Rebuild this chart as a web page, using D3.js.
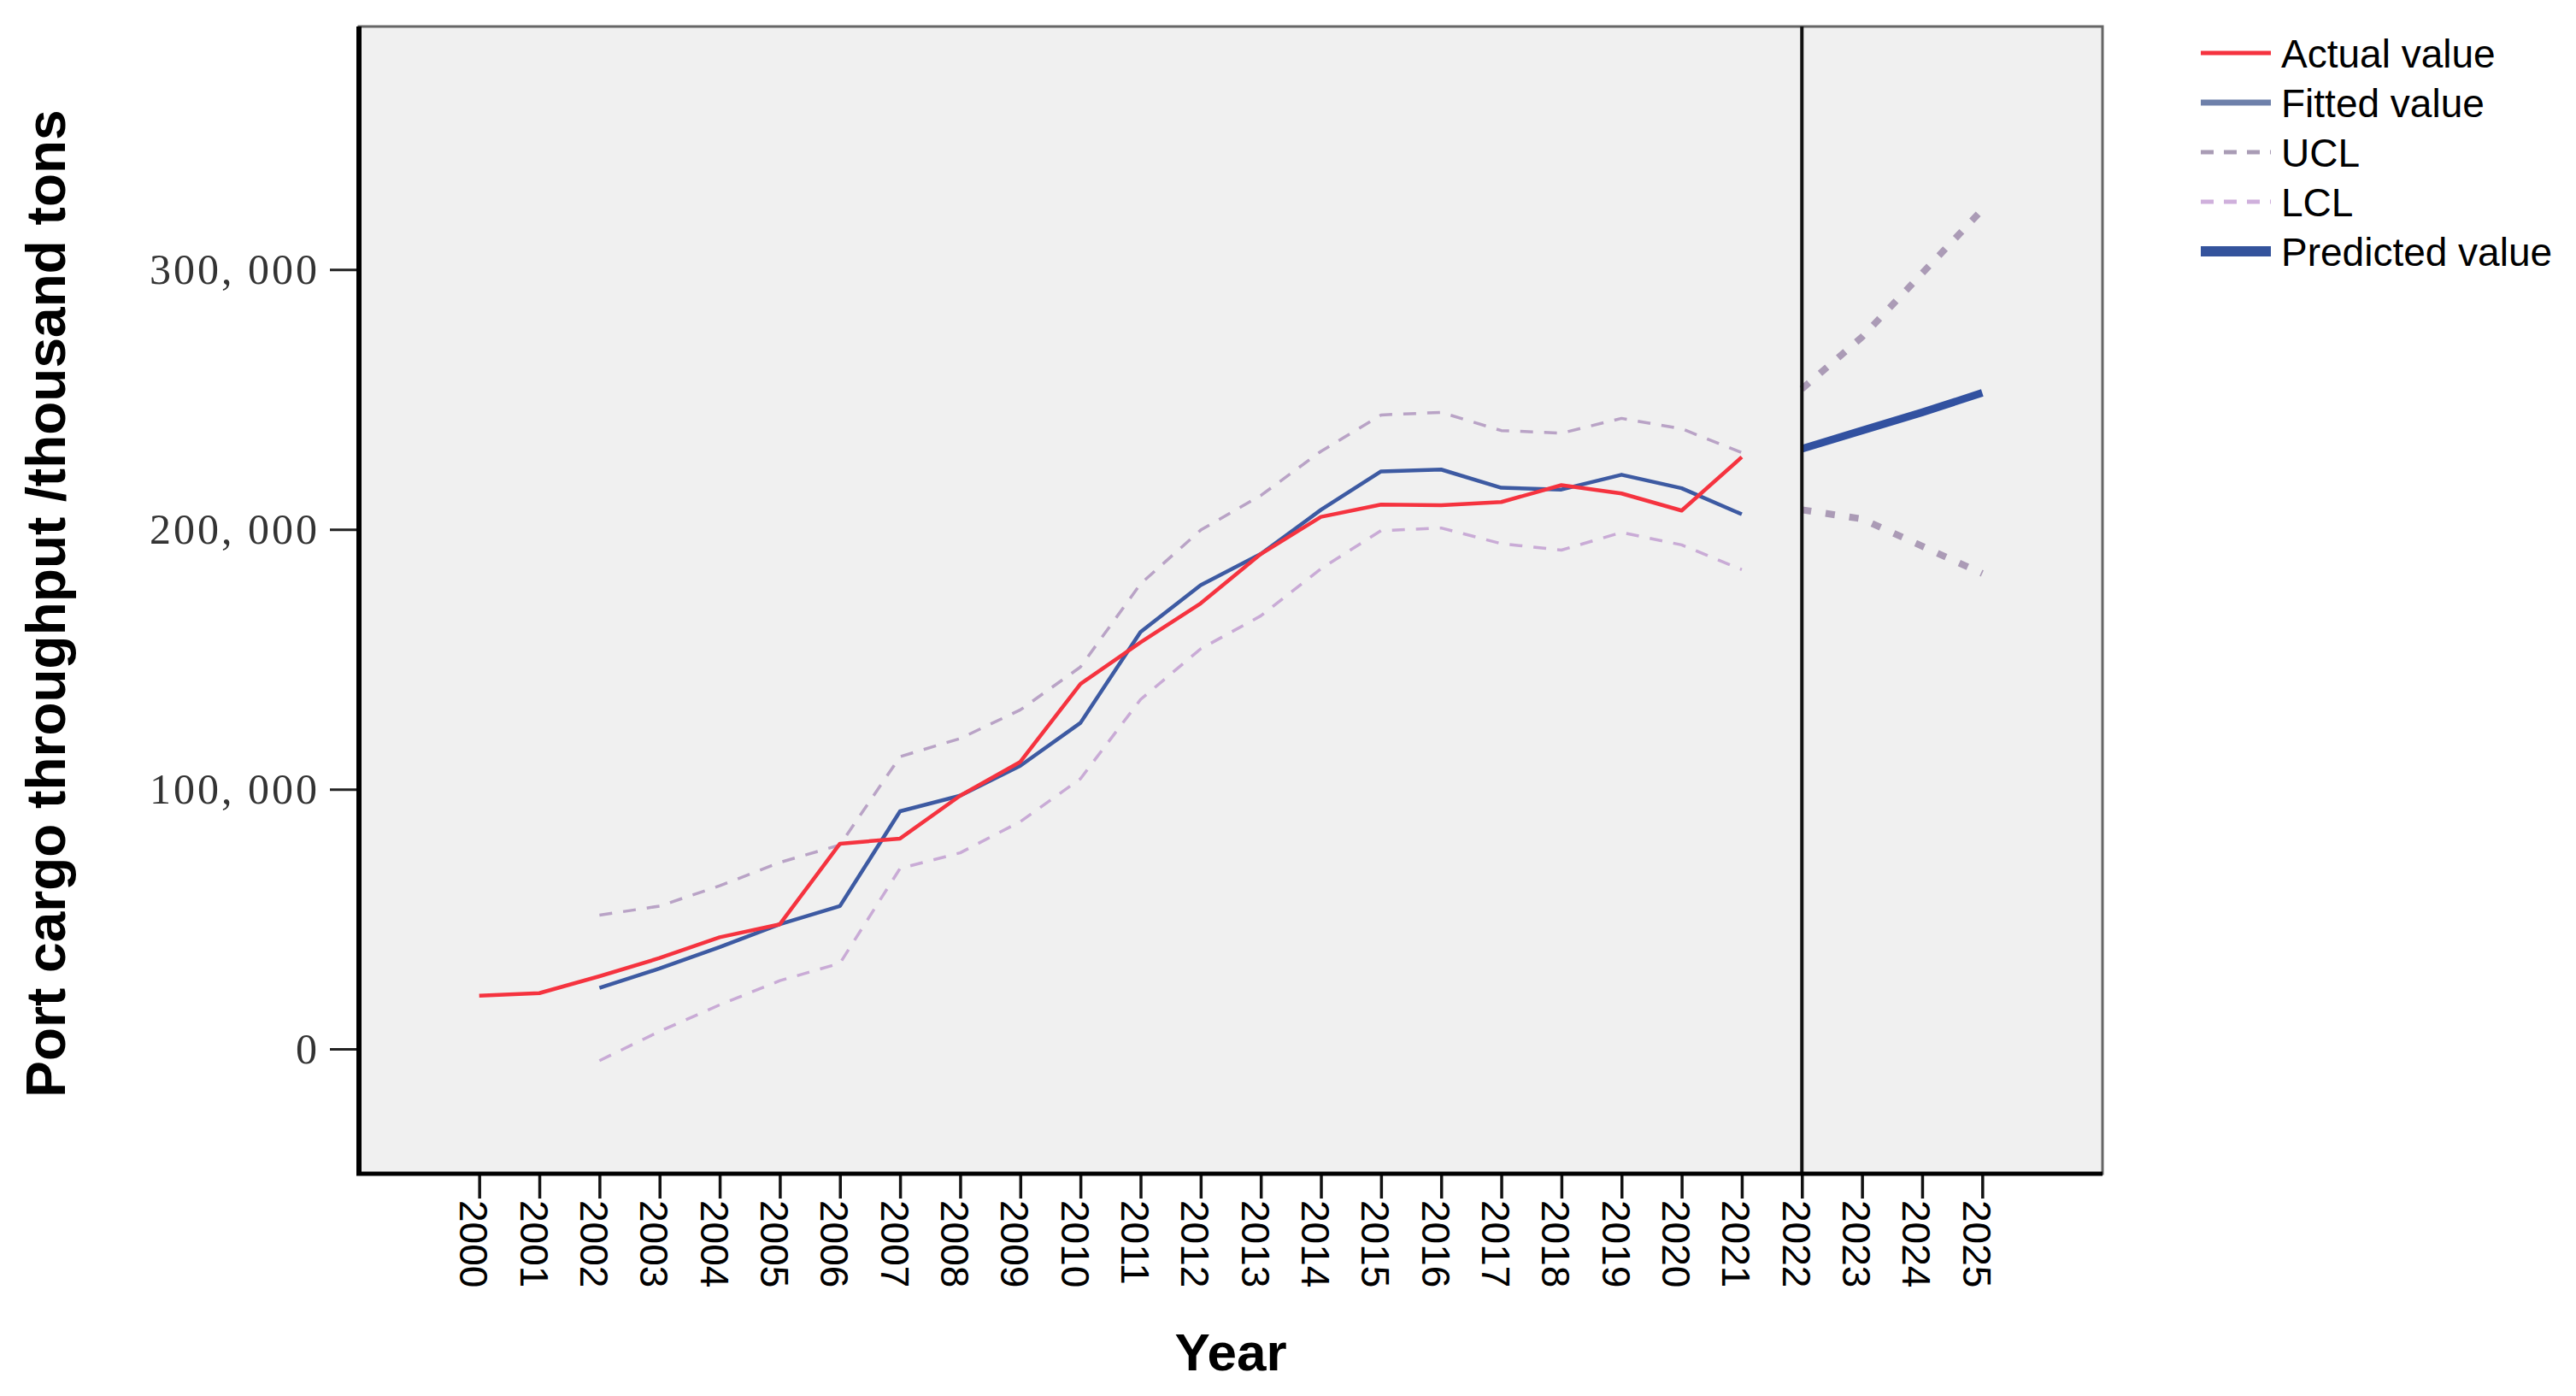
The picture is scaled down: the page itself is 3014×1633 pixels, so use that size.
<!DOCTYPE html>
<html>
<head>
<meta charset="utf-8">
<script src="https://cdn.jsdelivr.net/npm/d3@7"></script>
<style>
  body { margin: 0; background: #ffffff; }
  svg { display: block; }
</style>
</head>
<body>
<div id="chart"></div>
<script>
// data
var years = d3.range(2000, 2026);
var histYears = d3.range(2000, 2022);
var fitYears = d3.range(2002, 2022);
var foreYears = [2022, 2023, 2024, 2025];

var actualValues = [20500, 21500, 28000, 35000, 43000, 48000, 79000, 81000, 97500, 110500,
  140500, 156500, 171500, 190500, 204800, 209500, 209300, 210500, 217000, 213800, 207200, 227800];
var fittedValues = [23500, 31000, 39200, 48000, 55000, 91500, 97500, 109000, 125500, 160500,
  178500, 190500, 207500, 222300, 223000, 216000, 215300, 221000, 215800, 205800];
var uclValues = [51500, 55000, 62800, 71800, 78500, 112500, 119500, 130500, 147000, 179000,
  199700, 213000, 230000, 244000, 245000, 238000, 237000, 242700, 238700, 229500];
var lclValues = [-4500, 6800, 17000, 26300, 33000, 69500, 75500, 87500, 104000, 134500,
  154000, 166700, 184800, 199500, 200500, 194500, 192000, 198800, 194000, 184500];
var predictedValues = [231000, 238000, 245000, 252500];
var uclForecast = [254000, 274000, 298500, 323000];
var lclForecast = [207500, 204000, 193500, 183000];

var yTicks = [0, 100000, 200000, 300000];
var legendLabels = ["Actual value", "Fitted value", "UCL", "LCL", "Predicted value"];

var W = 3014, H = 1633;
var plot = {left: 420, right: 2460, top: 31, bottom: 1373};

var svg = d3.select("#chart").append("svg")
  .attr("width", W)
  .attr("height", H);

var x = d3.scaleLinear().domain([1998, 2027]).range([plot.left, plot.right]);
var y = d3.scaleLinear().domain([-48000, 393500]).range([plot.bottom, plot.top]);

// plot background + frame
svg.append("rect")
  .attr("x", plot.left).attr("y", plot.top)
  .attr("width", plot.right - plot.left).attr("height", plot.bottom - plot.top)
  .attr("fill", "#f0f0f0")
  .attr("stroke", "#666")
  .attr("stroke-width", 3);

function pairs(xs, vs) { return xs.map(function(d, i){ return [d, vs[i]]; }); }

var line = d3.line()
  .x(function(d){ return x(d[0]); })
  .y(function(d){ return y(d[1]); });

var series = [
  {data: pairs(fitYears, uclValues), color: "#b9a3c6", width: 3.5, dash: "15,13"},
  {data: pairs(fitYears, lclValues), color: "#c9abd6", width: 3.5, dash: "15,13"},
  {data: pairs(foreYears, uclForecast), color: "#ab9bb6", width: 8, dash: "11,17"},
  {data: pairs(foreYears, lclForecast), color: "#ab9bb6", width: 8, dash: "11,17"},
  {data: pairs(fitYears, fittedValues), color: "#3d5aa2", width: 4.5, dash: null},
  {data: pairs(histYears, actualValues), color: "#f5333f", width: 4.5, dash: null},
  {data: pairs(foreYears, predictedValues), color: "#3251a0", width: 9, dash: null}
];

svg.selectAll("path.series")
  .data(series)
  .enter()
  .append("path")
    .attr("class", "series")
    .attr("d", function(d){ return line(d.data); })
    .attr("fill", "none")
    .attr("stroke", function(d){ return d.color; })
    .attr("stroke-width", function(d){ return d.width; })
    .attr("stroke-dasharray", function(d){ return d.dash; })
    .attr("stroke-linejoin", "round");

// forecast start line
svg.append("line")
  .attr("x1", x(2022)).attr("x2", x(2022))
  .attr("y1", plot.top).attr("y2", plot.bottom)
  .attr("stroke", "#111")
  .attr("stroke-width", 4);

// x axis
var xAxis = svg.append("g")
  .attr("transform", "translate(0," + plot.bottom + ")")
  .call(d3.axisBottom(x).tickValues(years).tickFormat(d3.format("d")).tickSize(29).tickSizeOuter(0));
xAxis.select(".domain").remove();
xAxis.selectAll(".tick line").attr("stroke", "#111").attr("stroke-width", 3.5);
xAxis.selectAll("text")
  .attr("transform", "rotate(90)")
  .attr("x", 31)
  .attr("y", 0)
  .attr("dy", "0.5em")
  .style("text-anchor", "start")
  .style("font-family", "'Liberation Sans', Arial, sans-serif")
  .style("font-size", "46px")
  .attr("fill", "#000");

// y axis
var yAxis = svg.append("g")
  .attr("transform", "translate(" + plot.left + ",0)")
  .call(d3.axisLeft(y).tickValues(yTicks)
    .tickFormat(function(d){ return d3.format(",")(d).replace(",", ", "); })
    .tickSize(34).tickPadding(12).tickSizeOuter(0));
yAxis.select(".domain").remove();
yAxis.selectAll(".tick line").attr("stroke", "#222").attr("stroke-width", 3);
yAxis.selectAll("text")
  .style("font-family", "'Liberation Serif', 'Times New Roman', serif")
  .style("font-size", "50px")
  .style("letter-spacing", "3px")
  .attr("fill", "#333");

// heavier left and bottom axis lines
svg.append("line")
  .attr("x1", plot.left).attr("x2", plot.left)
  .attr("y1", plot.top).attr("y2", plot.bottom + 2)
  .attr("stroke", "#000").attr("stroke-width", 6);
svg.append("line")
  .attr("x1", plot.left - 3).attr("x2", plot.right)
  .attr("y1", plot.bottom).attr("y2", plot.bottom)
  .attr("stroke", "#000").attr("stroke-width", 5);

// axis titles
svg.append("text")
  .attr("transform", "translate(76," + ((plot.top + plot.bottom) / 2 + 4) + ") rotate(-90)")
  .attr("text-anchor", "middle")
  .style("font-family", "'Liberation Sans', Arial, sans-serif")
  .style("font-weight", "bold")
  .style("font-size", "64px")
  .text("Port cargo throughput /thousand tons");

svg.append("text")
  .attr("x", 1440)
  .attr("y", 1603)
  .attr("text-anchor", "middle")
  .style("font-family", "'Liberation Sans', Arial, sans-serif")
  .style("font-weight", "bold")
  .style("font-size", "62px")
  .text("Year");

// legend
var legendStyles = [
  {color: "#f5333f", width: 5, dash: null},
  {color: "#6e80aa", width: 7, dash: null},
  {color: "#a99cb5", width: 5, dash: "15,12"},
  {color: "#cfb0dc", width: 5, dash: "15,12"},
  {color: "#34539c", width: 12, dash: null}
];

var legend = svg.append("g").attr("transform", "translate(2575,62)");
var item = legend.selectAll("g")
  .data(legendLabels)
  .enter()
  .append("g")
    .attr("transform", function(d, i){ return "translate(0," + (i * 58) + ")"; });

item.append("line")
  .attr("x1", 0).attr("x2", 82)
  .attr("y1", 0).attr("y2", 0)
  .attr("stroke", function(d, i){ return legendStyles[i].color; })
  .attr("stroke-width", function(d, i){ return legendStyles[i].width; })
  .attr("stroke-dasharray", function(d, i){ return legendStyles[i].dash; });

item.append("text")
  .attr("x", 94)
  .attr("y", 0)
  .attr("dy", "0.38em")
  .style("font-family", "'Liberation Sans', Arial, sans-serif")
  .style("font-size", "46px")
  .attr("fill", "#000")
  .text(function(d){ return d; });
</script>
</body>
</html>
